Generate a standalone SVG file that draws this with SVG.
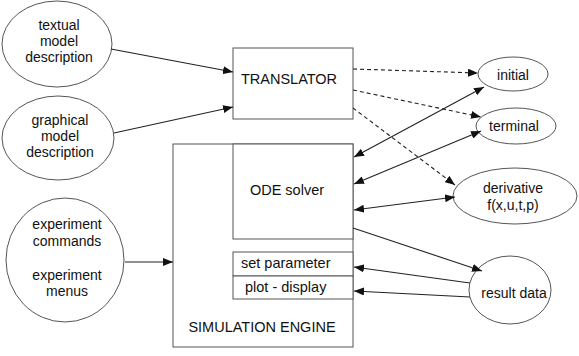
<svg xmlns="http://www.w3.org/2000/svg" width="579" height="356" viewBox="0 0 579 356">
<style>
text{font-family:"Liberation Sans",Arial,sans-serif;font-size:14px;fill:#111;text-anchor:middle}
.b{font-size:14.5px}
.s{text-anchor:start}
.n{fill:#fff;stroke:#555;stroke-width:1}
.c{stroke:#222;stroke-width:1.1;fill:none}
.d{stroke-dasharray:4,3}
</style>
<defs>
<marker id="a" viewBox="0 0 10 8" refX="10" refY="4" markerWidth="10" markerHeight="8" markerUnits="userSpaceOnUse" orient="auto-start-reverse"><path d="M0,0L10,4L0,8Z" fill="#111"/></marker>
</defs>
<rect width="579" height="356" fill="#fff"/>
<g id="textual"><ellipse class="n" cx="57" cy="44" rx="55" ry="43"/><text x="59" y="30">textual</text><text x="59" y="46">model</text><text x="59" y="62">description</text></g>
<g id="graphical"><ellipse class="n" cx="58" cy="138" rx="56" ry="42"/><text x="60" y="125">graphical</text><text x="60" y="141">model</text><text x="60" y="157">description</text></g>
<g id="experiment"><ellipse class="n" cx="65" cy="260" rx="59" ry="62"/><text x="67" y="229">experiment</text><text x="67" y="246">commands</text><text x="67" y="280">experiment</text><text x="67" y="296">menus</text></g>
<g id="translator"><rect class="n" x="233" y="48" width="120" height="71"/><text class="b" x="289" y="84">TRANSLATOR</text></g>
<g id="engine"><rect class="n" x="173" y="144" width="180" height="203"/><text class="b" x="262" y="332">SIMULATION ENGINE</text></g>
<g id="ode"><rect class="n" x="233" y="144" width="120" height="95"/><text class="b" x="287" y="195">ODE solver</text></g>
<g id="setparam"><rect class="n" x="233" y="252" width="120" height="24"/><text class="b s" x="241" y="268">set parameter</text></g>
<g id="plot"><rect class="n" x="233" y="276" width="120" height="23"/><text class="b s" x="245" y="292">plot - display</text></g>
<g id="initial"><ellipse class="n" cx="513" cy="74" rx="35" ry="17"/><text x="513" y="80">initial</text></g>
<g id="terminal"><ellipse class="n" cx="516" cy="126" rx="40" ry="18"/><text x="514" y="131">terminal</text></g>
<g id="derivative"><ellipse class="n" cx="515" cy="196" rx="62" ry="28"/><text x="513" y="193">derivative</text><text x="513" y="210">f(x,u,t,p)</text></g>
<g id="result"><ellipse class="n" cx="510" cy="290" rx="41" ry="34"/><text x="514" y="298">result data</text></g>
<g id="connectors">
<line class="c" x1="111" y1="49" x2="233" y2="72" marker-end="url(#a)"/>
<line class="c" x1="114" y1="133" x2="233" y2="107" marker-end="url(#a)"/>
<line class="c" x1="125" y1="262" x2="173" y2="262" marker-end="url(#a)"/>
<line class="c d" x1="353" y1="69" x2="478" y2="73" marker-end="url(#a)"/>
<line class="c d" x1="353" y1="90" x2="481" y2="117" marker-end="url(#a)"/>
<line class="c d" x1="353" y1="108" x2="455" y2="185" marker-end="url(#a)"/>
<line class="c" x1="354" y1="157" x2="484" y2="87" marker-start="url(#a)" marker-end="url(#a)"/>
<line class="c" x1="354" y1="184" x2="481" y2="131" marker-start="url(#a)" marker-end="url(#a)"/>
<line class="c" x1="354" y1="210" x2="455" y2="197" marker-start="url(#a)" marker-end="url(#a)"/>
<line class="c" x1="353" y1="228" x2="482" y2="271" marker-end="url(#a)"/>
<line class="c" x1="470" y1="283" x2="354" y2="267" marker-end="url(#a)"/>
<line class="c" x1="470" y1="297" x2="354" y2="291" marker-end="url(#a)"/>
</g>
</svg>
